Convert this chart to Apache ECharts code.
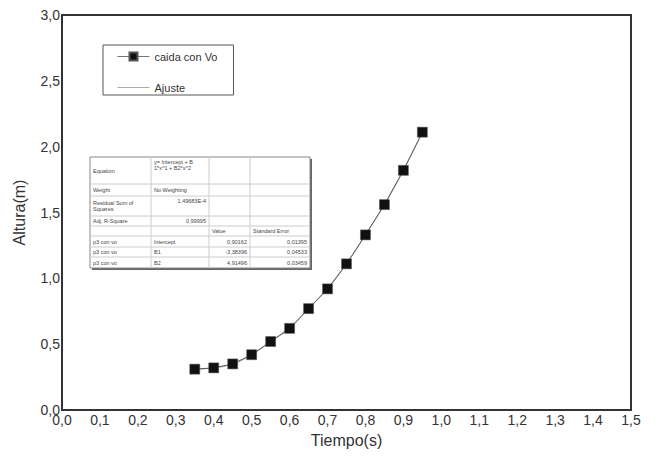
<!DOCTYPE html>
<html>
<head>
<meta charset="utf-8">
<script src="https://cdn.jsdelivr.net/npm/echarts@6/dist/echarts.min.js"></script>
<style>
  html, body { margin: 0; padding: 0; background: #fff; }
  #main { width: 657px; height: 458px; }
</style>
</head>
<body>
<div id="main"></div>
<script>
// datos
var tiempo = [0.35, 0.40, 0.45, 0.50, 0.55, 0.60, 0.65, 0.70, 0.75, 0.80, 0.85, 0.90, 0.95];
var altura = [0.31, 0.32, 0.35, 0.42, 0.52, 0.62, 0.77, 0.92, 1.11, 1.33, 1.56, 1.82, 2.11];
var ajuste = [0.31, 0.32, 0.35, 0.42, 0.52, 0.62, 0.77, 0.92, 1.11, 1.33, 1.56, 1.82, 2.11];

// tabla del ajuste
var tabla = [
  ["Equation", "y= Intercept + B\n1*x^1 + B2*x^2", "", ""],
  ["Weight", "No Weighting", "", ""],
  ["Residual Sum of\nSquares", "1,49683E-4", "", ""],
  ["Adj. R-Square", "0,99995", "", ""],
  ["", "", "Value", "Standard Error"],
  ["p3 con vo", "Intercept", "0,90162", "0,01395"],
  ["p3 con vo", "B1", "-3,38396", "0,04533"],
  ["p3 con vo", "B2", "4,91496", "0,03459"]
];
var alinear = [
  ["left", "left", "", ""],
  ["left", "left", "", ""],
  ["left", "right", "", ""],
  ["left", "right", "", ""],
  ["", "", "left", "left"],
  ["left", "left", "right", "right"],
  ["left", "left", "right", "right"],
  ["left", "left", "right", "right"]
];
var colX = [90, 151, 209, 250, 310];
var rowY = [157, 184, 196, 216, 226, 236, 247, 257, 268];

function coma(v) {
  return v.toFixed(1).replace(".", ",");
}

function pares(xs, ys) {
  var out = [];
  for (var i = 0; i < xs.length; i++) out.push([xs[i], ys[i]]);
  return out;
}

// elementos de la tabla
var tablaGraf = [];
tablaGraf.push({
  type: "rect", z: 10,
  shape: { x: colX[0] + 2, y: rowY[0] + 2, width: colX[4] - colX[0], height: rowY[8] - rowY[0] },
  style: { fill: "#666" }
});
tablaGraf.push({
  type: "rect", z: 11,
  shape: { x: colX[0], y: rowY[0], width: colX[4] - colX[0], height: rowY[8] - rowY[0] },
  style: { fill: "#fff", stroke: "#888", lineWidth: 1 }
});
for (var c = 1; c < colX.length - 1; c++) {
  tablaGraf.push({
    type: "line", z: 12,
    shape: { x1: colX[c], y1: rowY[0], x2: colX[c], y2: rowY[8] },
    style: { stroke: "#ccc", lineWidth: 1 }
  });
}
for (var r = 1; r < rowY.length - 1; r++) {
  tablaGraf.push({
    type: "line", z: 12,
    shape: { x1: colX[0], y1: rowY[r], x2: colX[4], y2: rowY[r] },
    style: { stroke: "#ccc", lineWidth: 1 }
  });
}
for (var r = 0; r < tabla.length; r++) {
  for (var c = 0; c < 4; c++) {
    var t = tabla[r][c];
    if (!t) continue;
    var al = alinear[r][c];
    var arriba = (r === 0 && c === 1) || (r === 2 && c === 1);
    tablaGraf.push({
      type: "text", z: 13,
      x: al === "right" ? colX[c + 1] - 3 : colX[c] + 3,
      y: arriba ? rowY[r] + 2 : (rowY[r] + rowY[r + 1]) / 2,
      style: {
        text: t,
        align: al,
        verticalAlign: arriba ? "top" : "middle",
        fill: "#444",
        font: "5.5px 'Liberation Sans', Arial, sans-serif",
        lineHeight: 6
      }
    });
  }
}

var myChart = echarts.init(document.getElementById("main"), null, { renderer: "svg" });

var option = {
  backgroundColor: "#fff",
  animation: false,
  textStyle: { fontFamily: "'Liberation Sans', Arial, sans-serif" },
  grid: {
    left: 62, top: 15, right: 26, bottom: 48,
    show: true, borderColor: "#333", borderWidth: 2
  },
  legend: {
    left: 103, top: 45,
    orient: "vertical",
    padding: [6, 16, 2, 14],
    itemWidth: 32, itemHeight: 10, itemGap: 20,
    borderColor: "#555", borderWidth: 1,
    textStyle: { fontSize: 11, color: "#333" },
    data: [
      { name: "caida con Vo", lineStyle: { width: 1, color: "#777" } },
      { name: "Ajuste", icon: "path://M0,0L32,0L32,1L0,1Z", itemStyle: { color: "#aaa" } }
    ]
  },
  xAxis: {
    type: "value", min: 0, max: 1.5, interval: 0.1,
    name: "Tiempo(s)", nameLocation: "middle", nameGap: 22,
    nameTextStyle: { fontSize: 16, color: "#333" },
    axisLine: { lineStyle: { color: "#333", width: 2 } },
    axisTick: { show: false },
    splitLine: { show: false },
    axisLabel: { margin: 3, fontSize: 14, color: "#333", formatter: coma }
  },
  yAxis: {
    type: "value", min: 0, max: 3, interval: 0.5,
    name: "Altura(m)", nameLocation: "middle", nameGap: 35,
    nameTextStyle: { fontSize: 16, color: "#333" },
    axisLine: { show: true, lineStyle: { color: "#333", width: 2 } },
    axisTick: { show: false },
    splitLine: { show: false },
    axisLabel: { margin: 2, fontSize: 14, color: "#333", formatter: coma }
  },
  series: [
    {
      name: "Ajuste",
      type: "line",
      data: pares(tiempo, ajuste),
      smooth: true,
      showSymbol: false,
      symbol: "none",
      lineStyle: { color: "#aaa", width: 1 },
      itemStyle: { color: "#aaa" },
      z: 2
    },
    {
      name: "caida con Vo",
      type: "line",
      data: pares(tiempo, altura),
      symbol: "rect",
      symbolSize: 10,
      lineStyle: { color: "#555", width: 1 },
      itemStyle: { color: "#111", borderColor: "#555", borderWidth: 0.5 },
      z: 3
    }
  ],
  graphic: tablaGraf
};
myChart.setOption(option);
</script>
</body>
</html>
